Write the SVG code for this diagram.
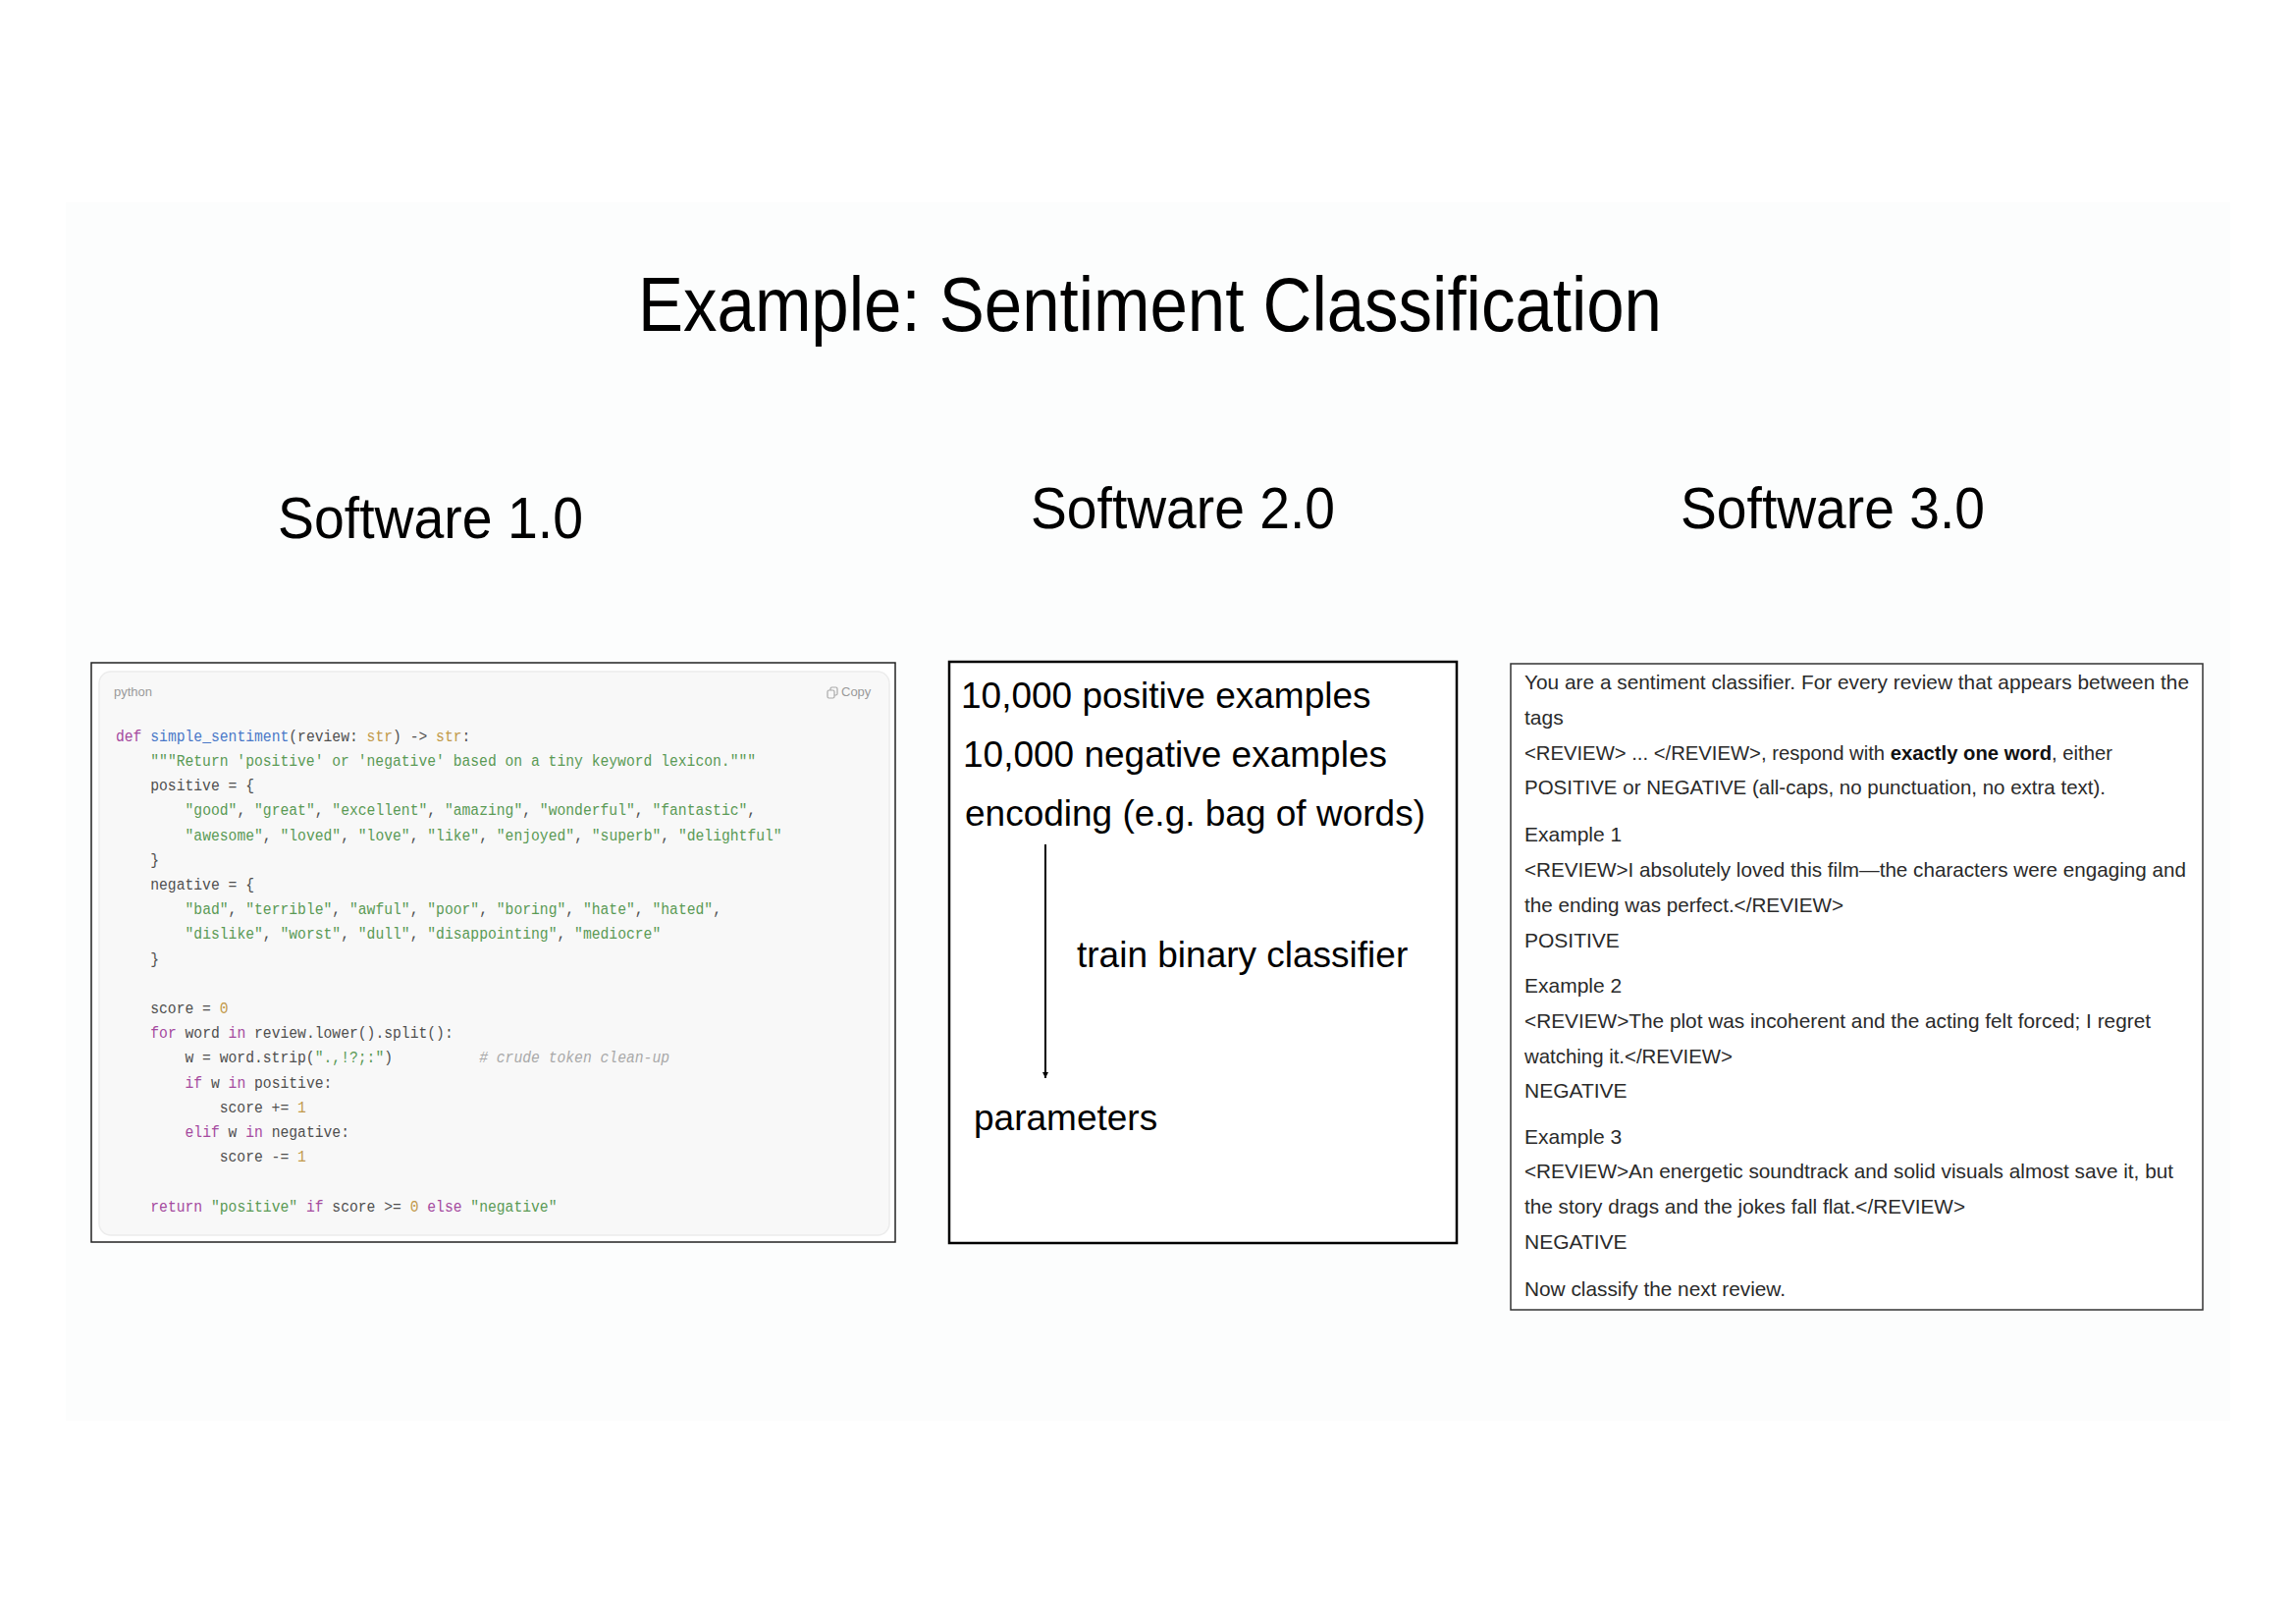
<svg xmlns="http://www.w3.org/2000/svg" width="2339" height="1654" viewBox="0 0 2339 1654">
<defs>
<style>
.sans{font-family:"Liberation Sans",Arial,Helvetica,sans-serif;}
.h{font-size:60px;fill:#000;}
.s2{font-size:37px;fill:#000;}
.s3{font-size:21px;fill:#2a2a2a;}
.code{font-family:"Liberation Mono","DejaVu Sans Mono",monospace;font-size:17px;fill:#4f4f4f;white-space:pre;}
.code text{white-space:pre;}
.k{fill:#a54a9f;}
.f{fill:#4a78c8;}
.t{fill:#c29a4a;}
.s{fill:#5a9a55;}
.n{fill:#c29a4a;}
.c{fill:#a9a9a9;font-style:italic;}
.lbl{font-size:13px;fill:#9a9a9a;}
</style>
<marker id="arr" viewBox="0 0 10 10" refX="10" refY="5" markerWidth="6" markerHeight="7" orient="auto" markerUnits="userSpaceOnUse">
<path d="M0,0 L10,5 L0,10 z" fill="#000"/>
</marker>
</defs>
<rect x="0" y="0" width="2339" height="1654" fill="#fff"/>
<rect x="67" y="206" width="2205" height="1241" fill="#fcfdfd"/>

<g id="title" class="sans">
<text x="650" y="337" font-size="78" textLength="1043" lengthAdjust="spacingAndGlyphs">Example: Sentiment Classification</text>
</g>

<g id="heading-1" class="sans"><text class="h" x="283" y="548" textLength="311" lengthAdjust="spacingAndGlyphs">Software 1.0</text></g>
<g id="heading-2" class="sans"><text class="h" x="1050" y="538" textLength="310" lengthAdjust="spacingAndGlyphs">Software 2.0</text></g>
<g id="heading-3" class="sans"><text class="h" x="1712" y="538" textLength="310" lengthAdjust="spacingAndGlyphs">Software 3.0</text></g>

<g id="software1-code">
<rect x="93" y="675" width="819" height="590" fill="#fff" stroke="#222" stroke-width="1.5"/>
<rect x="101" y="684" width="805" height="574" rx="12" fill="#f8f8f8" stroke="#ececec" stroke-width="1.5"/>
<text class="sans lbl" x="116" y="709">python</text>
<g fill="none" stroke="#aaa" stroke-width="1.2">
<rect x="846" y="700" width="7" height="8" rx="1.5"/>
<rect x="843" y="703" width="7" height="8" rx="1.5" fill="#f8f8f8"/>
</g>
<text class="sans lbl" x="857" y="709">Copy</text>
<g transform="translate(118,0) scale(0.8647,1)" class="code" xml:space="preserve">
<text xml:space="preserve" x="0" y="755"><tspan class="k">def</tspan> <tspan class="f">simple_sentiment</tspan>(review: <tspan class="t">str</tspan>) -&gt; <tspan class="t">str</tspan>:</text>
<text xml:space="preserve" x="0" y="780">    <tspan class="s">"""Return 'positive' or 'negative' based on a tiny keyword lexicon."""</tspan></text>
<text xml:space="preserve" x="0" y="805">    positive = {</text>
<text xml:space="preserve" x="0" y="830">        <tspan class="s">"good"</tspan>, <tspan class="s">"great"</tspan>, <tspan class="s">"excellent"</tspan>, <tspan class="s">"amazing"</tspan>, <tspan class="s">"wonderful"</tspan>, <tspan class="s">"fantastic"</tspan>,</text>
<text xml:space="preserve" x="0" y="856">        <tspan class="s">"awesome"</tspan>, <tspan class="s">"loved"</tspan>, <tspan class="s">"love"</tspan>, <tspan class="s">"like"</tspan>, <tspan class="s">"enjoyed"</tspan>, <tspan class="s">"superb"</tspan>, <tspan class="s">"delightful"</tspan></text>
<text xml:space="preserve" x="0" y="881">    }</text>
<text xml:space="preserve" x="0" y="906">    negative = {</text>
<text xml:space="preserve" x="0" y="931">        <tspan class="s">"bad"</tspan>, <tspan class="s">"terrible"</tspan>, <tspan class="s">"awful"</tspan>, <tspan class="s">"poor"</tspan>, <tspan class="s">"boring"</tspan>, <tspan class="s">"hate"</tspan>, <tspan class="s">"hated"</tspan>,</text>
<text xml:space="preserve" x="0" y="956">        <tspan class="s">"dislike"</tspan>, <tspan class="s">"worst"</tspan>, <tspan class="s">"dull"</tspan>, <tspan class="s">"disappointing"</tspan>, <tspan class="s">"mediocre"</tspan></text>
<text xml:space="preserve" x="0" y="982">    }</text>
<text xml:space="preserve" x="0" y="1032">    score = <tspan class="n">0</tspan></text>
<text xml:space="preserve" x="0" y="1057">    <tspan class="k">for</tspan> word <tspan class="k">in</tspan> review.lower().split():</text>
<text xml:space="preserve" x="0" y="1082">        w = word.strip(<tspan class="s">".,!?;:"</tspan>)          <tspan class="c"># crude token clean-up</tspan></text>
<text xml:space="preserve" x="0" y="1108">        <tspan class="k">if</tspan> w <tspan class="k">in</tspan> positive:</text>
<text xml:space="preserve" x="0" y="1133">            score += <tspan class="n">1</tspan></text>
<text xml:space="preserve" x="0" y="1158">        <tspan class="k">elif</tspan> w <tspan class="k">in</tspan> negative:</text>
<text xml:space="preserve" x="0" y="1183">            score -= <tspan class="n">1</tspan></text>
<text xml:space="preserve" x="0" y="1234">    <tspan class="k">return</tspan> <tspan class="s">"positive"</tspan> <tspan class="k">if</tspan> score &gt;= <tspan class="n">0</tspan> <tspan class="k">else</tspan> <tspan class="s">"negative"</tspan></text>
</g>
</g>

<g id="software2-box" class="sans">
<rect x="967" y="674" width="517" height="592" fill="#fff" stroke="#000" stroke-width="2.5"/>
<text class="s2" x="979" y="721">10,000 positive examples</text>
<text class="s2" x="981" y="781">10,000 negative examples</text>
<text class="s2" x="983" y="841">encoding (e.g. bag of words)</text>
<text class="s2" x="1097" y="985">train binary classifier</text>
<text class="s2" x="992" y="1151">parameters</text>
</g>

<g id="connectors">
<line x1="1065" y1="860" x2="1065" y2="1098" stroke="#000" stroke-width="2" marker-end="url(#arr)"/>
</g>

<g id="software3-prompt" class="sans">
<rect x="1539" y="676" width="705" height="658" fill="#fff" stroke="#333" stroke-width="1.5"/>
<text class="s3" x="1553" y="702" textLength="677" lengthAdjust="spacingAndGlyphs">You are a sentiment classifier. For every review that appears between the</text>
<text class="s3" x="1553" y="738">tags</text>
<text class="s3" x="1553" y="774" textLength="599" lengthAdjust="spacingAndGlyphs">&lt;REVIEW&gt; ... &lt;/REVIEW&gt;, respond with <tspan font-weight="bold" fill="#111">exactly one word</tspan>, either</text>
<text class="s3" x="1553" y="809" textLength="592" lengthAdjust="spacingAndGlyphs">POSITIVE or NEGATIVE (all-caps, no punctuation, no extra text).</text>
<text class="s3" x="1553" y="857">Example 1</text>
<text class="s3" x="1553" y="893" textLength="674" lengthAdjust="spacingAndGlyphs">&lt;REVIEW&gt;I absolutely loved this film—the characters were engaging and</text>
<text class="s3" x="1553" y="929" textLength="325" lengthAdjust="spacingAndGlyphs">the ending was perfect.&lt;/REVIEW&gt;</text>
<text class="s3" x="1553" y="965">POSITIVE</text>
<text class="s3" x="1553" y="1011">Example 2</text>
<text class="s3" x="1553" y="1047" textLength="638" lengthAdjust="spacingAndGlyphs">&lt;REVIEW&gt;The plot was incoherent and the acting felt forced; I regret</text>
<text class="s3" x="1553" y="1083" textLength="212" lengthAdjust="spacingAndGlyphs">watching it.&lt;/REVIEW&gt;</text>
<text class="s3" x="1553" y="1118">NEGATIVE</text>
<text class="s3" x="1553" y="1165">Example 3</text>
<text class="s3" x="1553" y="1200" textLength="661" lengthAdjust="spacingAndGlyphs">&lt;REVIEW&gt;An energetic soundtrack and solid visuals almost save it, but</text>
<text class="s3" x="1553" y="1236" textLength="449" lengthAdjust="spacingAndGlyphs">the story drags and the jokes fall flat.&lt;/REVIEW&gt;</text>
<text class="s3" x="1553" y="1272">NEGATIVE</text>
<text class="s3" x="1553" y="1320" textLength="266" lengthAdjust="spacingAndGlyphs">Now classify the next review.</text>
</g>
</svg>
